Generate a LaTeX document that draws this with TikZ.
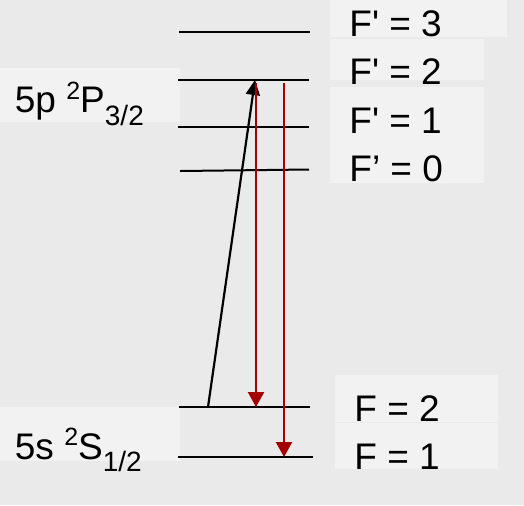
\documentclass[tikz,border=0pt]{standalone}
\usepackage{fontspec}
\setmainfont{Liberation Sans}
\usetikzlibrary{arrows.meta}
\definecolor{fondG}{HTML}{EAEAEA}
\definecolor{fondC}{HTML}{F2F2F2}
\definecolor{rougeF}{HTML}{A50000}
\newcommand{\haut}[1]{\raisebox{6.7pt}{\fontsize{12.5}{13}\selectfont #1}}
\newcommand{\bas}[1]{\raisebox{-6.2pt}{\fontsize{14}{15}\selectfont #1}}
\newcommand{\prim}{\textquotesingle}
\tikzset{
  niv/.style={line width=1pt, draw=black},
  cadre/.style={fill=fondC, draw=none},
  etiq/.style={anchor=base west, inner sep=0pt, font=\fontsize{18.5}{20}\selectfont},
  pompe/.style={-{Triangle[length=7.5pt,width=7pt]}, line width=1.1pt, draw=black},
  emis/.style={-{Triangle[length=7.5pt,width=8pt]}, line width=1.1pt, draw=rougeF},
}
\begin{document}
\begin{tikzpicture}[x=0.5pt,y=-0.5pt]
  % fond et cadres des etiquettes
  \fill[fondG] (0,0) rectangle (524,505);
  \useasboundingbox (0,0) rectangle (524,505);
  \fill[cadre] (330,0) rectangle (507,37);
  \fill[cadre] (330,39) rectangle (484,80);
  \fill[cadre] (330,87) rectangle (484,183);
  \fill[cadre] (335,375) rectangle (498,422);
  \fill[cadre] (335,422.5) rectangle (498,469);
  \fill[cadre] (0,68) rectangle (180,122);
  \fill[cadre] (0,407) rectangle (180,461);

  % niveaux
  \coordinate (p3g) at (179,32);  \coordinate (p3d) at (310,32);
  \coordinate (p2g) at (178,80);  \coordinate (p2d) at (309,80);
  \coordinate (p1g) at (178,127); \coordinate (p1d) at (309,127);
  \coordinate (p0g) at (180,171); \coordinate (p0d) at (309,169.5);
  \coordinate (s2g) at (179,407); \coordinate (s2d) at (310,407);
  \coordinate (s1g) at (178,457); \coordinate (s1d) at (313,457);
  \draw[niv] (p3g) -- (p3d);
  \draw[niv] (p2g) -- (p2d);
  \draw[niv] (p1g) -- (p1d);
  \draw[niv] (p0g) -- (p0d);
  \draw[niv] (s2g) -- (s2d);
  \draw[niv] (s1g) -- (s1d);

  % etiquettes
  \node[etiq] (fp3) at (349,36) {F\prim{} = 3};
  \node[etiq] (fp2) at (349,84) {F\prim{} = 2};
  \node[etiq] (fp1) at (349,133) {F\prim{} = 1};
  \node[etiq] (fp0) at (349,181) {F’ = 0};
  \node[etiq] (f2) at (354,421) {F = 2};
  \node[etiq] (f1) at (354,469) {F = 1};
  \node[etiq] (e5p) at (14.5,112.7) {5p \haut{2}P\bas{3/2}};
  \node[etiq] (e5s) at (14.5,459) {5s \haut{2}S\bas{1/2}};

  % transitions
  \coordinate (pa) at (208,407); \coordinate (pb) at (255,80);
  \coordinate (ra) at (256,83);  \coordinate (rb) at (256,407);
  \coordinate (qa) at (284,83);  \coordinate (qb) at (284,457);
  \draw[pompe] (pa) -- (pb);
  \draw[emis] (ra) -- (rb);
  \draw[emis] (qa) -- (qb);
\end{tikzpicture}
\end{document}
